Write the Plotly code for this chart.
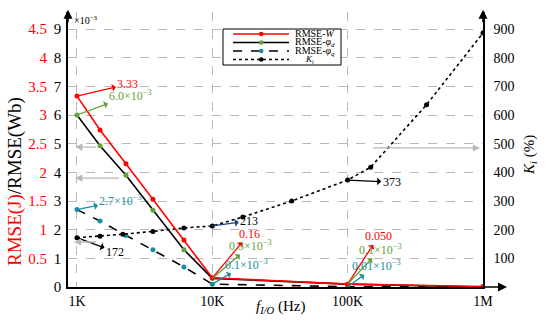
import plotly.graph_objects as go
import math

SERIF = "Liberation Serif, Times New Roman, serif"

# ---- data ----
f_rmse = [1000, 1480, 2300, 3640, 6170, 10000, 100000, 1000000]          # Hz
rmse_w = [3.33, 2.74, 2.15, 1.53, 0.82, 0.16, 0.050, 0.010]               # J
rmse_phid = [6.0, 4.93, 3.9, 2.68, 1.3, 0.3, 0.1, 0.0]                    # x1e-3 Wb
rmse_phiq = [2.7, 2.3, 1.8, 1.3, 0.7, 0.1, 0.01, 0.0]                     # x1e-3 Wb
f_ki = [1000, 1480, 2180, 3640, 6170, 10000, 16800, 38600, 100000, 148000, 383000, 1000000]
k_i = [172, 177, 184, 194, 206, 213, 244, 300, 373, 418, 636, 886]         # %

x_ticks = [1e3, 1e4, 1e5, 1e6]
x_ticktext = ["1K", "10K", "100K", "1M"]
y_ticks = list(range(0, 10))
yj_ticks = [0.5, 1, 1.5, 2, 2.5, 3, 3.5, 4, 4.5]
yk_ticks = [100, 200, 300, 400, 500, 600, 700, 800, 900]

series_names = ["RMSE-<i>W</i>", "RMSE-<i>φ</i><sub><i>d</i></sub>",
                "RMSE-<i>φ</i><sub><i>q</i></sub>", "<i>K</i><sub><i>i</i></sub>"]

RED = "#ff0000"
GREEN = "#63a03a"
TEAL = "#1b8fa2"
NAVY = "#1f3f80"
GRAY = "#b8b8b8"

YTOP = 9.593
L, R, T, B, W, H = 68, 67, 12, 35, 550, 322
PW, PH = W - L - R, H - T - B


def pxx(px):
    return (px - L) / PW


def pxy(py):
    return (H - B - py) / PH


fig = go.Figure()
fig.add_trace(go.Scatter(x=f_rmse, y=rmse_w, yaxis="y3", mode="lines+markers",
                         name=series_names[0], line=dict(color=RED, width=1.6),
                         marker=dict(color=RED, size=5)))
fig.add_trace(go.Scatter(x=f_rmse, y=rmse_phid, mode="lines+markers",
                         name=series_names[1], line=dict(color="black", width=1.6),
                         marker=dict(color=GREEN, size=5)))
fig.add_trace(go.Scatter(x=f_rmse, y=rmse_phiq, mode="lines+markers",
                         name=series_names[2],
                         line=dict(color="black", width=1.6, dash="dash"),
                         marker=dict(color=TEAL, size=5)))
fig.add_trace(go.Scatter(x=f_ki, y=k_i, yaxis="y2", mode="lines+markers",
                         name=series_names[3],
                         line=dict(color="black", width=1.6, dash="dot"),
                         marker=dict(color="black", size=5)))

fig.update_layout(
    width=W, height=H,
    margin=dict(l=L, r=R, t=T, b=B),
    plot_bgcolor="white", paper_bgcolor="white",
    font=dict(family=SERIF, size=14, color="black"),
    showlegend=False,
    xaxis=dict(type="log", range=[math.log10(1000) - 9 / 135.5, 6.0],
               tickvals=x_ticks, ticktext=x_ticktext, ticks="",
               showgrid=True, gridcolor=GRAY, griddash="dash", gridwidth=1,
               showline=True, linecolor="black", linewidth=1.5,
               tickfont=dict(size=14), zeroline=False),
    yaxis=dict(range=[0, YTOP], tickvals=y_ticks, ticks="",
               showgrid=True, gridcolor=GRAY, griddash="dash", gridwidth=1,
               showline=True, linecolor="black", linewidth=1.5,
               zeroline=False, tickfont=dict(size=15), ticklabelstandoff=2),
    yaxis3=dict(range=[0, YTOP / 2], tickvals=yj_ticks, ticks="",
                overlaying="y", side="left", anchor="x",
                showgrid=False, showline=False, zeroline=False,
                tickfont=dict(size=15, color=RED), ticklabelstandoff=20),
    yaxis2=dict(range=[0, YTOP * 100], tickvals=yk_ticks, ticks="",
                overlaying="y", side="right", anchor="x",
                showgrid=False, showline=True, linecolor="black", linewidth=1.5,
                zeroline=False, tickfont=dict(size=14), ticklabelstandoff=6),
)

ann = []
shapes = []
# axis titles
ann.append(dict(xref="paper", yref="paper", x=pxx(15), y=pxy(182), textangle=-90,
                xanchor="center", yanchor="middle",
                text='<span style="color:#ff0000">RMSE(J)</span>/RMSE(Wb)',
                showarrow=False, font=dict(size=19, family=SERIF)))
ann.append(dict(xref="paper", yref="paper", x=pxx(530), y=pxy(155), textangle=-90,
                xanchor="center", yanchor="middle",
                text="<i>K</i><sub><i>i</i></sub> (%)", showarrow=False,
                font=dict(size=15, family=SERIF)))
ann.append(dict(xref="paper", yref="paper", x=pxx(280), y=pxy(307),
                xanchor="center", yanchor="middle",
                text="<i>f</i><sub><i>I/O</i></sub> (Hz)", showarrow=False,
                font=dict(size=15, family=SERIF)))
ann.append(dict(xref="paper", yref="paper", x=pxx(72), y=pxy(20),
                xanchor="left", yanchor="middle",
                text="×10<sup>−3</sup>", showarrow=False,
                font=dict(size=10, family=SERIF)))
# axis arrows
for xx in (0, 1):
    ann.append(dict(xref="paper", yref="paper", x=xx, y=1.008, ax=0, ay=14,
                    text="", showarrow=True, arrowhead=2, arrowsize=1.2,
                    arrowwidth=1.5, arrowcolor="black"))
ann.append(dict(xref="paper", yref="paper", x=pxx(507), y=0, ax=-25, ay=0,
                text="", showarrow=True, arrowhead=2, arrowsize=1.2,
                arrowwidth=1.5, arrowcolor="black"))


def lab(x, y, yref, text, color, ax, ay, acolor=None, size=12):
    ann.append(dict(x=math.log10(x), y=y, xref="x", yref=yref, ax=ax, ay=ay,
                    text=text, showarrow=True, arrowside="start",
                    arrowhead=2, arrowsize=1.0, arrowwidth=1.3,
                    arrowcolor=acolor or color, standoff=0, startstandoff=0,
                    font=dict(size=size, color=color, family=SERIF)))


lab(f_rmse[0], rmse_w[0], "y3", "3.33", RED, 51, -12)
lab(f_rmse[0], rmse_phid[0], "y", "6.0×10<sup>−3</sup>", GREEN, 54, -20)
lab(f_rmse[0], rmse_phiq[0], "y", "2.7×10<sup>−3</sup>", TEAL, 44, -9)
lab(f_ki[0], k_i[0], "y2", "172", "black", 38, 14)
lab(f_ki[5], k_i[5], "y2", "213", "black", 37, -5, acolor=NAVY)
lab(f_rmse[5], rmse_w[5], "y3", "0.16", RED, 37, -44)
lab(f_rmse[5], rmse_phid[5], "y", "0.3×10<sup>−3</sup>", GREEN, 38, -33)
lab(f_rmse[5], rmse_phiq[5], "y", "0.1×10<sup>−3</sup>", TEAL, 34, -20)
lab(f_ki[8], k_i[8], "y2", "373", "black", 44, 2)
lab(f_rmse[6], rmse_w[6], "y3", "0.050", RED, 31, -48)
lab(f_rmse[6], rmse_phid[6], "y", "0.1×10<sup>−3</sup>", GREEN, 33, -35)
lab(f_rmse[6], rmse_phiq[6], "y", "0.01×10<sup>−3</sup>", TEAL, 29, -21)


# light gray reading-direction arrows
def garrow(x0, x1, y, yref):
    ann.append(dict(x=math.log10(x1), y=y, xref="x", yref=yref,
                    ax=math.log10(x0), ay=y, axref="x", ayref=yref,
                    text="", showarrow=True, arrowhead=2, arrowsize=1.1,
                    arrowwidth=1.3, arrowcolor=GRAY))


garrow(1420, 970, 4.88, "y")
garrow(2100, 970, 3.80, "y")
garrow(1420, 950, 1.57, "y")
garrow(150000, 950000, 485, "y2")

# compact legend box (drawn to match the reference's tight legend)
shapes.append(dict(type="rect", xref="paper", yref="paper",
                   x0=pxx(223), x1=pxx(341), y0=pxy(29), y1=pxy(65),
                   line=dict(color="black", width=1), fillcolor="white", layer="above"))
leg_styles = [(RED, "solid", RED), ("black", "solid", GREEN),
              ("black", "dash", TEAL), ("black", "dot", "black")]
rows = [34, 42.5, 51, 59.5]
for (lc, dash, mc), ry, name in zip(leg_styles, rows, series_names):
    shapes.append(dict(type="line", xref="paper", yref="paper",
                       x0=pxx(233), x1=pxx(289), y0=pxy(ry), y1=pxy(ry),
                       line=dict(color=lc, width=1.5, dash=dash), layer="above"))
    shapes.append(dict(type="circle", xref="paper", yref="paper",
                       x0=pxx(259), x1=pxx(263.5), y0=pxy(ry + 2.25), y1=pxy(ry - 2.25),
                       line=dict(color=mc, width=0), fillcolor=mc, layer="above"))
    last = name.startswith("<i>K")
    ann.append(dict(xref="paper", yref="paper",
                    x=pxx(309 if last else 293), y=pxy(ry),
                    xanchor="center" if last else "left", yanchor="middle",
                    text=name, showarrow=False,
                    font=dict(size=10 if not last else 9, family=SERIF)))

fig.update_layout(annotations=ann, shapes=shapes)
fig.write_html("out.html", config={"displayModeBar": False},
               post_script="document.body.style.margin='0';")
